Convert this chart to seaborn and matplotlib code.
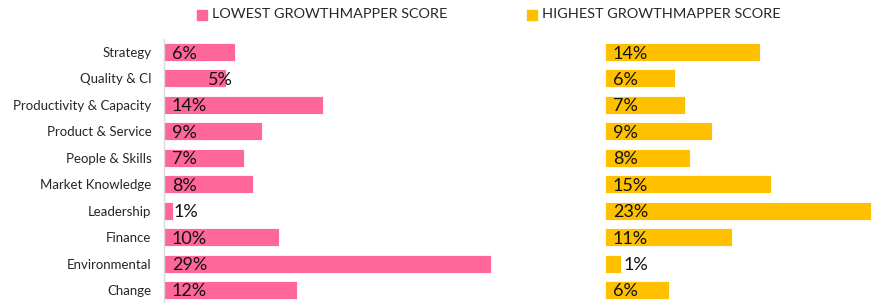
import matplotlib
matplotlib.use("Agg")
import matplotlib.pyplot as plt
import seaborn as sns
import pandas as pd

categories = ["Strategy", "Quality & CI", "Productivity & Capacity", "Product & Service",
              "People & Skills", "Market Knowledge", "Leadership", "Finance",
              "Environmental", "Change"]
lowest = [6.3, 5.5, 14.1, 8.7, 7.1, 7.9, 0.8, 10.2, 29.0, 11.8]
highest = [13.7, 6.2, 7.1, 9.5, 7.5, 14.7, 23.6, 11.3, 1.4, 5.7]
lowest_labels = ["6%", "5%", "14%", "9%", "7%", "8%", "1%", "10%", "29%", "12%"]
highest_labels = ["14%", "6%", "7%", "9%", "8%", "15%", "23%", "11%", "1%", "6%"]
series_names = ["LOWEST GROWTHMAPPER SCORE", "HIGHEST GROWTHMAPPER SCORE"]

PINK = "#FF6699"
GOLD = "#FFC000"

sns.set_theme(style="white")
plt.rcParams["font.family"] = ["Lato", "DejaVu Sans"]

df = pd.DataFrame({"cat": categories, "low": lowest, "high": highest})

W, H = 872, 303
fig = plt.figure(figsize=(W / 100, H / 100), dpi=100)

scale = 11.28  # px per percent
top_px, bot_px = 38.8, 303.2
ax_bottom = 1 - bot_px / H
ax_height = (bot_px - top_px) / H

# left axes
lx0 = 164
lw = 30.5 * scale
axL = fig.add_axes([lx0 / W, ax_bottom, lw / W, ax_height])
sns.barplot(data=df, y="cat", x="low", color=PINK, orient="h", width=0.68,
            saturation=1, ax=axL, edgecolor="white", linewidth=0.6)
axL.set_xlim(0, 30.5)
axL.set_ylim(9.5, -0.5)

# right axes
rx0 = 605
rw = W - rx0
axR = fig.add_axes([rx0 / W, ax_bottom, rw / W, ax_height])
sns.barplot(data=df, y="cat", x="high", color=GOLD, orient="h", width=0.68,
            saturation=1, ax=axR, edgecolor="white", linewidth=0.6)
axR.set_xlim(0, rw / scale)
axR.set_ylim(9.5, -0.5)

for ax in (axL, axR):
    ax.set_xlabel("")
    ax.set_ylabel("")
    ax.set_xticks([])
    for s in ("top", "right", "bottom"):
        ax.spines[s].set_visible(False)
    ax.tick_params(axis="y", length=0)

axL.spines["left"].set_color("#D9D9D9")
axL.spines["left"].set_linewidth(1.0)
axR.spines["left"].set_visible(False)
axR.set_yticks([])
axL.tick_params(axis="y", pad=9, labelsize=9.5, labelcolor="#262626")

vfs = 13
for i, (v, lab) in enumerate(zip(lowest, lowest_labels)):
    if categories[i] == "Quality & CI":
        xpos = 3.9
    elif v < 2:
        xpos = v
    else:
        xpos = 0.7
    axL.text(xpos, i, lab, ha="left", va="center_baseline", fontsize=vfs, color="#111111")
for i, (v, lab) in enumerate(zip(highest, highest_labels)):
    xpos = v + 0.2 if v < 2 else 0.7
    axR.text(xpos, i, lab, ha="left", va="center_baseline", fontsize=vfs, color="#111111")

# legend
lfs = 10.4
ly = 14
for x_sq, color, name in [(197, PINK, series_names[0]), (527, GOLD, series_names[1])]:
    fig.patches.append(plt.Rectangle((x_sq / W, 1 - 19.5 / H), 10 / W, 10 / H,
                                     transform=fig.transFigure, color=color))
    fig.text((x_sq + 15) / W, 1 - ly / H, name, ha="left", va="center",
             fontsize=lfs, color="#262626")

fig.savefig("out.png", dpi=100)
